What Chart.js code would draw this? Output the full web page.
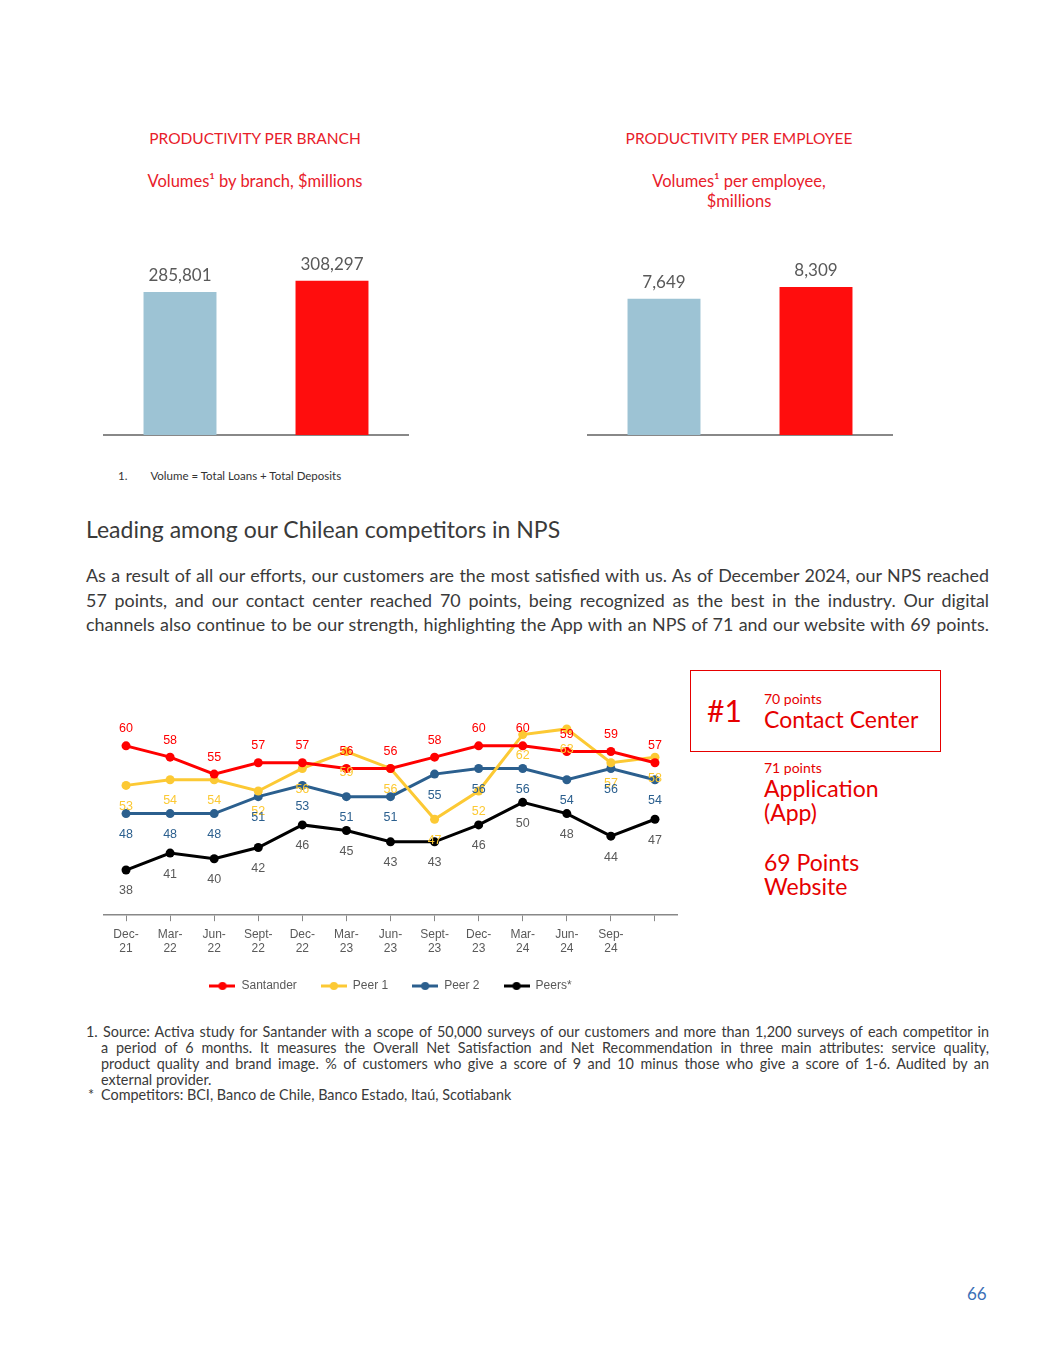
<!DOCTYPE html>
<html>
<head>
<meta charset="utf-8">
<script src="https://cdn.jsdelivr.net/npm/chart.js@4.4.1/dist/chart.umd.min.js"></script>
<style>
  body { margin: 0; width: 1055px; height: 1365px; background: #fff; position: relative; font-family: Lato, "Noto Sans", sans-serif; }
  .abs { position: absolute; }
  .red { color: #e8202a; }
  .title { font-size: 15.5px; text-align: center; width: 340px; }
  .sub { font-size: 16.5px; text-align: center; width: 340px; line-height: 20px; }
  .just { text-align: justify; text-align-last: justify; white-space: nowrap; }
  .body { font-size: 17.9px; color: #3a3a3a; width: 903px; }
  .note { font-size: 14.4px; color: #3a3a3a; }
  .big { font-size: 23px; color: #e60000; line-height: 24px; }
  .small { font-size: 14px; color: #e60000; }
</style>
</head>
<body>

<div class="abs red title" style="left:85px; top:129px;">PRODUCTIVITY PER BRANCH</div>
<div class="abs red sub" style="left:85px; top:171px;">Volumes¹ by branch, $millions</div>
<div class="abs red title" style="left:569px; top:129px;">PRODUCTIVITY PER EMPLOYEE</div>
<div class="abs red sub" style="left:569px; top:171px;">Volumes¹ per employee,<br>$millions</div>

<div class="abs" style="left:86px; top:220px; width:340px; height:230px;"><canvas id="branch-chart"></canvas></div>
<div class="abs" style="left:570px; top:220px; width:340px; height:230px;"><canvas id="employee-chart"></canvas></div>

<div class="abs" style="left:118px; top:469px; font-size:11.5px; color:#333;">1.<span style="margin-left:23px;">Volume = Total Loans + Total Deposits</span></div>

<div class="abs" style="left:86px; top:515px; font-size:23px; color:#3a3a3a;">Leading among our Chilean competitors in NPS</div>

<div class="abs body just" style="left:86px; top:564px;">As a result of all our efforts, our customers are the most satisfied with us. As of December 2024, our NPS reached</div>
<div class="abs body just" style="left:86px; top:589px;">57 points, and our contact center reached 70 points, being recognized as the best in the industry. Our digital</div>
<div class="abs body just" style="left:86px; top:613px;">channels also continue to be our strength, highlighting the App with an NPS of 71 and our website with 69 points.</div>

<div class="abs" style="left:86px; top:690px; width:600px; height:320px;"><canvas id="nps-chart"></canvas></div>

<div class="abs" style="left:690px; top:670px; width:249px; height:80px; border:1.5px solid #e60000;"></div>
<div class="abs" style="left:707px; top:692px; font-size:30px; color:#e60000;">#1</div>
<div class="abs small" style="left:764px; top:690px;">70 points</div>
<div class="abs big" style="left:764px; top:707px;">Contact Center</div>
<div class="abs small" style="left:764px; top:759px;">71 points</div>
<div class="abs big" style="left:764px; top:776px;">Application<br>(App)</div>
<div class="abs big" style="left:764px; top:850px;">69 Points<br>Website</div>

<div class="abs note just" style="left:86px; top:1023px; width:903px;">1. Source: Activa study for Santander with a scope of 50,000 surveys of our customers and more than 1,200 surveys of each competitor in</div>
<div class="abs note just" style="left:101px; top:1039px; width:888px;">a period of 6 months. It measures the Overall Net Satisfaction and Net Recommendation in three main attributes: service quality,</div>
<div class="abs note just" style="left:101px; top:1055px; width:888px;">product quality and brand image. % of customers who give a score of 9 and 10 minus those who give a score of 1-6. Audited by an</div>
<div class="abs note" style="left:101px; top:1071px;">external provider.</div>
<div class="abs note" style="left:88px; top:1086px;">*</div>
<div class="abs note" style="left:101px; top:1086px;">Competitors: BCI, Banco de Chile, Banco Estado, Itaú, Scotiabank</div>

<div class="abs" style="left:967px; top:1283px; font-size:17px; color:#3b6fb6;">66</div>

<script>
const barCategories = ["2023", "2024"];
const branchValues = [285801, 308297];
const employeeValues = [7649, 8309];
const barColors = ["#9dc3d4", "#ff0d0d"];

const npsLabels = [
  ["Dec-", "21"], ["Mar-", "22"], ["Jun-", "22"], ["Sept-", "22"], ["Dec-", "22"],
  ["Mar-", "23"], ["Jun-", "23"], ["Sept-", "23"], ["Dec-", "23"], ["Mar-", "24"],
  ["Jun-", "24"], ["Sep-", "24"], ""
];
const santander = [60, 58, 55, 57, 57, 56, 56, 58, 60, 60, 59, 59, 57];
const peer1 = [53, 54, 54, 52, 56, 59, 56, 47, 52, 62, 63, 57, 58];
const peer2 = [48, 48, 48, 51, 53, 51, 51, 55, 56, 56, 54, 56, 54];
const peers = [38, 41, 40, 42, 46, 45, 43, 43, 46, 50, 48, 44, 47];

const SANTANDER_COLOR = "#ff0000";
const PEER1_COLOR = "#fcc934";
const PEER2_COLOR = "#2b5f8e";
const PEERS_COLOR = "#000000";

// value labels above the bars
const barLabelPlugin = {
  id: "barLabels",
  afterDatasetsDraw(chart) {
    const ctx = chart.ctx;
    const meta = chart.getDatasetMeta(0);
    ctx.save();
    ctx.font = "17px Lato";
    ctx.fillStyle = "#595959";
    ctx.textAlign = "center";
    ctx.textBaseline = "bottom";
    meta.data.forEach((bar, i) => {
      const v = chart.data.datasets[0].data[i];
      ctx.fillText(v.toLocaleString("en-US"), bar.x, bar.y - 8);
    });
    ctx.restore();
  },
};

function createBarChart(id, values, max) {
  const ctx = document.getElementById(id).getContext("2d");
  return new Chart(ctx, {
    type: "bar",
    data: {
      labels: barCategories,
      datasets: [
        {
          data: values,
          backgroundColor: barColors,
          barPercentage: 0.48,
          categoryPercentage: 1,
        },
      ],
    },
    options: {
      animation: false,
      maintainAspectRatio: false,
      layout: { padding: { left: 18, right: 18, top: 10, bottom: 7 } },
      plugins: { legend: { display: false }, tooltip: { enabled: false } },
      scales: {
        x: {
          grid: { display: false },
          ticks: { display: false },
          border: { color: "#888888", width: 2 },
        },
        y: { display: false, min: 0, max: max },
      },
    },
    plugins: [barLabelPlugin],
  });
}

createBarChart("branch-chart", branchValues, 410000);
createBarChart("employee-chart", employeeValues, 11500);

// legend marker: short line with a dot
function legendMarker(color) {
  const c = document.createElement("canvas");
  c.width = 26;
  c.height = 10;
  const g = c.getContext("2d");
  g.strokeStyle = color;
  g.lineWidth = 3;
  g.beginPath();
  g.moveTo(0, 5);
  g.lineTo(26, 5);
  g.stroke();
  g.fillStyle = color;
  g.beginPath();
  g.arc(13, 5, 4, 0, Math.PI * 2);
  g.fill();
  return c;
}

const labelColors = [SANTANDER_COLOR, "#fcc934", PEER2_COLOR, "#595959"];

const pointLabelPlugin = {
  id: "pointLabels",
  afterDatasetsDraw(chart) {
    const ctx = chart.ctx;
    ctx.save();
    ctx.font = "12.5px 'Liberation Sans', Arial";
    ctx.textAlign = "center";
    ctx.textBaseline = "middle";
    chart.data.datasets.forEach((ds, di) => {
      const meta = chart.getDatasetMeta(di);
      ctx.fillStyle = labelColors[di];
      meta.data.forEach((pt, i) => {
        const dy = di === 0 ? -17 : 21;
        ctx.fillText(ds.data[i], pt.x, pt.y + dy);
      });
    });
    ctx.restore();
  },
};

function lineDataset(label, data, color) {
  return {
    label: label,
    data: data,
    borderColor: color,
    backgroundColor: color,
    borderWidth: 3,
    pointRadius: 4.5,
    pointBackgroundColor: color,
    pointBorderWidth: 0,
    fill: false,
    tension: 0,
    marker: legendMarker(color),
  };
}

const npsCtx = document.getElementById("nps-chart").getContext("2d");
new Chart(npsCtx, {
  type: "line",
  data: {
    labels: npsLabels,
    datasets: [
      lineDataset("Santander", santander, SANTANDER_COLOR),
      lineDataset("Peer 1", peer1, PEER1_COLOR),
      lineDataset("Peer 2", peer2, PEER2_COLOR),
      lineDataset("Peers*", peers, PEERS_COLOR),
    ],
  },
  options: {
    animation: false,
    maintainAspectRatio: false,
    layout: { padding: { left: 18, right: 9, top: 22, bottom: 8 } },
    plugins: {
      tooltip: { enabled: false },
      legend: {
        position: "bottom",
        labels: {
          usePointStyle: true,
          pointStyleWidth: 26,
          padding: 24,
          color: "#595959",
          font: { family: "'Liberation Sans', Arial", size: 12 },
          generateLabels: function (chart) {
            const items = Chart.defaults.plugins.legend.labels.generateLabels(chart);
            items.forEach((item) => {
              item.pointStyle = chart.data.datasets[item.datasetIndex].marker;
            });
            return items;
          },
        },
      },
    },
    scales: {
      x: {
        offset: true,
        afterFit: function (scale) {
          scale.height -= 6;
        },
        grid: {
          display: true,
          drawOnChartArea: false,
          offset: false,
          tickLength: 6,
          color: "#888888",
        },
        border: { color: "#888888", width: 1.5 },
        ticks: {
          color: "#595959",
          font: { family: "'Liberation Sans', Arial", size: 12 },
          maxRotation: 0,
          autoSkip: false,
          padding: 6,
        },
      },
      y: { display: false, min: 30, max: 66 },
    },
  },
  plugins: [pointLabelPlugin],
});
</script>
</body>
</html>
